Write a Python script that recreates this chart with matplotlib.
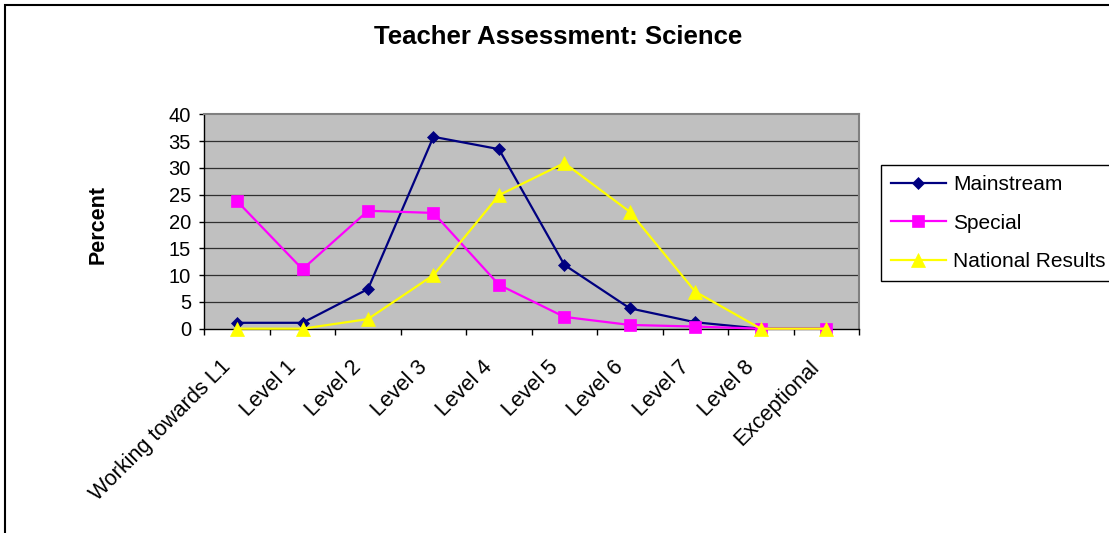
import numpy as np
import matplotlib
matplotlib.use("Agg")
import matplotlib.pyplot as plt
from matplotlib.patches import Rectangle
from matplotlib.transforms import ScaledTranslation

plt.rcParams['font.family'] = ['Liberation Sans', 'DejaVu Sans']

# data (percent)
categories = ["Working towards L1", "Level 1", "Level 2", "Level 3", "Level 4",
              "Level 5", "Level 6", "Level 7", "Level 8", "Exceptional"]
mainstream = [1.1, 1.1, 7.4, 35.8, 33.5, 11.9, 3.8, 1.2, 0.0, 0.0]
special = [23.8, 11.1, 22.0, 21.6, 8.2, 2.2, 0.7, 0.4, 0.0, 0.0]
national = [0.0, 0.0, 1.8, 10.0, 24.9, 30.9, 21.8, 6.9, 0.0, 0.0]
y_ticks = list(range(0, 41, 5))

W, H = 1109, 533
fig = plt.figure(figsize=(W / 100, H / 100), dpi=100)
ax = fig.add_axes([204.3 / W, 1 - 328.7 / H, (859 - 204.3) / W, (328.7 - 114.3) / H])
ax.set_facecolor('#C0C0C0')

x = np.arange(len(categories))

for yv in y_ticks[1:-1]:
    ax.axhline(yv, color='#303030', linewidth=0.9, zorder=1)

ax.plot(x, mainstream, color='#000080', linewidth=1.6, marker='D', markersize=6,
        markeredgewidth=0.5, label='Mainstream', zorder=3, clip_on=False)
ax.plot(x, special, color='#FF00FF', linewidth=1.6, marker='s', markersize=8.5,
        markeredgewidth=0.5, label='Special', zorder=4, clip_on=False)
ax.plot(x, national, color='#FFFF00', linewidth=1.6, marker='^', markersize=9.5,
        markeredgewidth=0.5, label='National Results', zorder=5, clip_on=False)

ax.set_xlim(-0.5, len(categories) - 0.5)
ax.set_ylim(0, 40)
ax.set_yticks(y_ticks)
ax.set_xticks(x, labels=categories)
ax.set_xticks(np.arange(-0.5, len(categories), 1), minor=True)

ax.tick_params(axis='y', direction='out', length=3.6, width=1, pad=6, labelsize=14.5)
ax.tick_params(axis='x', which='major', length=0, pad=20, labelsize=15.5)
ax.tick_params(axis='x', which='minor', direction='out', length=4.3, width=1)

offset = ScaledTranslation(-17 / 100, 0, fig.dpi_scale_trans)
for lab in ax.get_xticklabels():
    lab.set_rotation(45)
    lab.set_ha('right')
    lab.set_va('top')
    lab.set_rotation_mode('anchor')
    lab.set_transform(lab.get_transform() + offset)

for side in ['left', 'bottom']:
    ax.spines[side].set_color('black')
    ax.spines[side].set_linewidth(1.0)
for side in ['top', 'right']:
    ax.spines[side].set_color('#808080')
    ax.spines[side].set_linewidth(1.5)

fig.text(558 / W, 1 - 37 / H, "Teacher Assessment: Science", ha='center', va='center',
         fontsize=18.5, fontweight='bold')
fig.text(98 / W, 1 - 224 / H, "Percent", rotation=90, ha='center', va='center',
         fontsize=15.5, fontweight='bold')

leg = fig.legend(loc='upper left', bbox_to_anchor=(881 / W, 1 - 280 / H, 240 / W, 115 / H),
                 mode='expand', borderaxespad=0, fancybox=False, edgecolor='black',
                 framealpha=1, fontsize=15, handlelength=2.65, handletextpad=0.34,
                 labelspacing=0.95, borderpad=0.47, numpoints=1)
leg.get_frame().set_linewidth(1.0)

# outer chart border (right/bottom edges fall outside the image)
fig.patches.append(Rectangle((5 / W, -0.1), 1.2, 1.1 - 5.5 / H, transform=fig.transFigure,
                             fill=False, edgecolor='black', linewidth=1.5))

fig.savefig("out.png", dpi=100)
